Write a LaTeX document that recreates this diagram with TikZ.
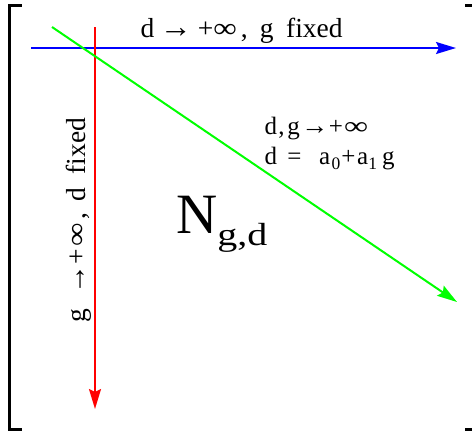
\documentclass[tikz,border=0pt]{standalone}
\usepackage{fontspec}
\setmainfont{Liberation Serif}
\usetikzlibrary{arrows.meta}
\definecolor{pblue}{RGB}{0,0,255}
\definecolor{pred}{RGB}{255,0,0}
\definecolor{pgreen}{RGB}{0,255,0}
\newcommand\smallarr[2]{\makebox[#1][c]{\fontsize{#2}{#2}\selectfont →}}
\newcommand\wideinf[1]{\scalebox{#1}[1]{∞}}
\newcommand\subdig[1]{\raisebox{-5pt}{\fontsize{17.5}{18}\selectfont #1}}
\tikzset{
  axisarrow/.style={line width=2pt,-{Stealth[length=20pt,width=12pt,inset=3pt]}},
  bracketline/.style={line width=2.5pt,line cap=butt},
  biglabel/.style={font=\fontsize{27.5}{30}\selectfont,inner sep=0pt},
  smalllabel/.style={font=\fontsize{25}{28}\selectfont,inner sep=0pt}
}
\begin{document}
\begin{tikzpicture}[x=1pt,y=-1pt]
\useasboundingbox (0,0) rectangle (472,432);
% brackets
\coordinate (lt) at (21.5,5.5);
\coordinate (lb) at (21.5,429.5);
\draw[bracketline] (lt) -- (9.7,5.5) -- (9.7,429.5) -- (lb);
\coordinate (rt) at (465,5.5);
\coordinate (rb) at (465,429.5);
\draw[bracketline] (rt) -- (477,5.5) -- (477,429.5) -- (rb);
% arrows
\coordinate (bs) at (31,48);
\coordinate (be) at (456,48);
\draw[axisarrow,pblue] (bs) -- (be);
\coordinate (rs) at (95,27);
\coordinate (re) at (95,409);
\draw[axisarrow,pred] (rs) -- (re);
\coordinate (gs) at (52,27);
\coordinate (ge) at (457,302);
\draw[axisarrow,pgreen] (gs) -- (ge);
% labels
\node[biglabel,anchor=base west] (top) at (140.5,37)
  {d\hspace{15.5pt}\smallarr{12pt}{32}\hspace{16pt}+\wideinf{1.2}\hspace{4pt},\hspace{12pt}g\hspace{12.6pt}fixed};
\node[biglabel,anchor=base west,rotate=90] (side) at (85,322.8)
  {g\hspace{23pt}\smallarr{13pt}{30}\hspace{8pt}+\hspace{2.5pt}\wideinf{1.2}\hspace{4.3pt},\hspace{10.6pt}d\hspace{13.5pt}fixed};
\node[smalllabel,anchor=base west] (diag1) at (264.5,134)
  {d\hspace{1.2pt},\hspace{2.8pt}g\hspace{9pt}\smallarr{12pt}{27}\hspace{8pt}+\hspace{1pt}\wideinf{1.35}};
\node[smalllabel,anchor=base west] (diag2) at (264.5,164)
  {d\hspace{10.2pt}=\hspace{17.7pt}a\hspace{1.3pt}\subdig{0}\hspace{1.1pt}+\hspace{1.65pt}a\subdig{1}\hspace{5pt}g};
\node[inner sep=0pt,anchor=base west,font=\fontsize{57}{60}\selectfont] (N) at (176,233)
  {N\raisebox{-12pt}{\scalebox{1.25}[1]{\fontsize{32}{33}\selectfont g,d}}};
\end{tikzpicture}
\end{document}
